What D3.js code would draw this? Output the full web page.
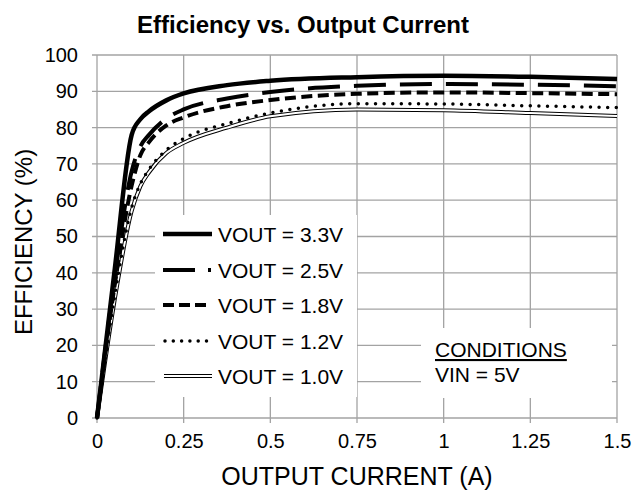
<!DOCTYPE html>
<html>
<head>
<meta charset="utf-8">
<script src="https://cdn.jsdelivr.net/npm/d3@7"></script>
<style>
  body { margin: 0; background: white; }
  text { font-family: "Liberation Sans", Arial, sans-serif; fill: black; }
</style>
</head>
<body>
<script>
const currents = [0, 0.05, 0.1, 0.125, 0.15, 0.2, 0.25, 0.375, 0.5, 0.75, 1.0, 1.25, 1.5]
const eff33 = [0, 40, 78, 82.3, 84.5, 87.5, 89.4, 91.7, 92.9, 93.9, 94.3, 94.0, 93.4]
const eff25 = [0, 38, 68, 74.8, 78.0, 82.5, 85.0, 88.0, 89.8, 91.5, 92.0, 91.8, 91.4]
const eff18 = [0, 36, 64, 72.4, 76.0, 80.6, 82.8, 85.9, 87.6, 89.3, 89.7, 89.5, 89.2]
const eff12 = [0, 33, 58, 64.5, 68.5, 73.8, 77.0, 81.1, 84.0, 86.6, 86.5, 86.0, 85.5]
const eff10 = [0, 32, 57, 63.8, 67.7, 73.0, 75.8, 80.0, 83.1, 85.0, 84.8, 84.0, 83.2]
const seriesNames = ['VOUT = 3.3V', 'VOUT = 2.5V', 'VOUT = 1.8V', 'VOUT = 1.2V', 'VOUT = 1.0V']
const xTicks = [0, 0.25, 0.5, 0.75, 1, 1.25, 1.5]
const yTicks = [0, 10, 20, 30, 40, 50, 60, 70, 80, 90, 100]

const width = 635
const height = 494
const margin = { top: 55, right: 18, bottom: 76, left: 97 }
const gridColor = '#a3a3a3'

const svg = d3.select('body').append('svg').attr('width', width).attr('height', height)

const xScale = d3.scaleLinear().domain([0, 1.5]).range([margin.left, width - margin.right])
const yScale = d3.scaleLinear().domain([0, 100]).range([height - margin.bottom, margin.top])

// gridlines
svg.append('g').selectAll('line').data(xTicks).enter().append('line')
  .attr('x1', d => xScale(d)).attr('x2', d => xScale(d))
  .attr('y1', yScale(0) + 5).attr('y2', yScale(100))
  .attr('stroke', gridColor).attr('stroke-width', 1.3)
svg.append('g').selectAll('line').data(yTicks).enter().append('line')
  .attr('x1', xScale(0) - 5).attr('x2', xScale(1.5))
  .attr('y1', d => yScale(d)).attr('y2', d => yScale(d))
  .attr('stroke', gridColor).attr('stroke-width', 1.3)

const xAxis = d3.axisBottom(xScale).tickValues(xTicks).tickSize(0).tickPadding(16).tickFormat(d3.format('~g'))
svg.append('g').attr('transform', `translate(0, ${yScale(0)})`).call(xAxis)
  .call(g => g.select('.domain').remove())
  .selectAll('text').attr('font-size', 20).attr('font-family', 'Liberation Sans, Arial, sans-serif')

const yAxis = d3.axisLeft(yScale).tickValues(yTicks).tickSize(0).tickPadding(19)
svg.append('g').attr('transform', `translate(${xScale(0)}, 0)`).call(yAxis)
  .call(g => g.select('.domain').remove())
  .selectAll('text').attr('font-size', 20).attr('font-family', 'Liberation Sans, Arial, sans-serif')

// curves
const line = d3.line().x(d => xScale(d[0])).y(d => yScale(d[1])).curve(d3.curveMonotoneX)
const toPoints = (arr) => currents.map((c, i) => [c, arr[i]])

const plot = svg.append('g')
plot.append('path').attr('d', line(toPoints(eff10))).attr('fill', 'none').attr('stroke', 'black').attr('stroke-width', 4)
plot.append('path').attr('d', line(toPoints(eff10))).attr('fill', 'none').attr('stroke', 'white').attr('stroke-width', 2)
plot.append('path').attr('d', line(toPoints(eff12))).attr('fill', 'none').attr('stroke', 'black')
  .attr('stroke-width', 3.5).attr('stroke-linecap', 'round').attr('stroke-dasharray', '0,8.6')
plot.append('path').attr('d', line(toPoints(eff18))).attr('fill', 'none').attr('stroke', 'black')
  .attr('stroke-width', 4).attr('stroke-dasharray', '11,5.5')
plot.append('path').attr('d', line(toPoints(eff25))).attr('fill', 'none').attr('stroke', 'black')
  .attr('stroke-width', 4).attr('stroke-dasharray', '32,14')
plot.append('path').attr('d', line(toPoints(eff33))).attr('fill', 'none').attr('stroke', 'black')
  .attr('stroke-width', 4.5)

// legend
svg.append('rect').attr('x', 155).attr('y', 215).attr('width', 202).attr('height', 182).attr('fill', 'white')
const legendY = [234, 270, 305, 341, 376]
const legend = svg.append('g')
seriesNames.forEach((name, i) => {
  const y = legendY[i]
  const seg = legend.append('line').attr('x1', 163).attr('x2', 212).attr('y1', y).attr('y2', y).attr('stroke', 'black')
  if (i === 0) seg.attr('stroke-width', 4.5)
  if (i === 1) seg.attr('stroke-width', 4).attr('stroke-dasharray', '32,13,3,20')
  if (i === 2) seg.attr('x2', 206).attr('stroke-width', 4).attr('stroke-dasharray', '11,5')
  if (i === 3) seg.attr('x1', 165).attr('x2', 208).attr('stroke-width', 3.5).attr('stroke-linecap', 'round').attr('stroke-dasharray', '0,8.3')
  if (i === 4) {
    seg.attr('x1', 164).attr('stroke-width', 4)
    legend.append('line').attr('x1', 164).attr('x2', 212).attr('y1', y).attr('y2', y).attr('stroke', 'white').attr('stroke-width', 2)
  }
  legend.append('text').attr('x', 218).attr('y', y + 8).attr('font-size', 21).text(name)
})

// conditions box
svg.append('rect').attr('x', 421).attr('y', 328).attr('width', 191).attr('height', 70).attr('fill', 'white')
svg.append('text').attr('x', 435).attr('y', 357).attr('font-size', 21).attr('text-decoration', 'underline').text('CONDITIONS')
svg.append('text').attr('x', 435).attr('y', 382).attr('font-size', 21).text('VIN = 5V')

// titles
svg.append('text').attr('x', 303).attr('y', 33).attr('text-anchor', 'middle')
  .attr('font-size', 24).attr('font-weight', 'bold').text('Efficiency vs. Output Current')
svg.append('text').attr('x', 357).attr('y', 485).attr('text-anchor', 'middle')
  .attr('font-size', 25).text('OUTPUT CURRENT (A)')
svg.append('text').attr('transform', `translate(32, ${242}) rotate(-90)`).attr('text-anchor', 'middle')
  .attr('font-size', 24).text('EFFICIENCY (%)')
</script>
</body>
</html>
